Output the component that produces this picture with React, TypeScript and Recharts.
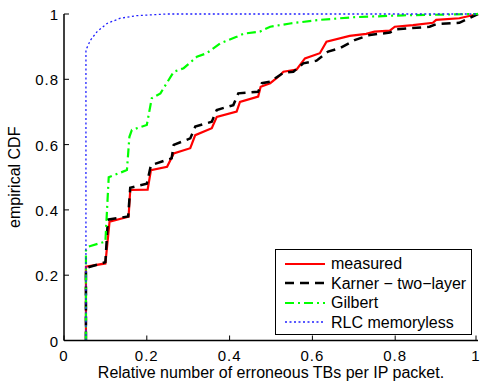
import { LineChart, Line, XAxis, YAxis, Legend } from 'recharts';

// CDF curves, [x, y] pairs
const measured = [
  [0.053, 0], [0.053, 0.226], [0.1, 0.236], [0.11, 0.364], [0.156, 0.379], [0.16, 0.461],
  [0.202, 0.462], [0.21, 0.522], [0.249, 0.532], [0.265, 0.573], [0.305, 0.589], [0.317, 0.629],
  [0.357, 0.65], [0.369, 0.685], [0.417, 0.701], [0.425, 0.731], [0.469, 0.747], [0.475, 0.777],
  [0.498, 0.788], [0.52, 0.81], [0.53, 0.823], [0.562, 0.83], [0.582, 0.864], [0.618, 0.88],
  [0.634, 0.915], [0.69, 0.933], [0.73, 0.939], [0.75, 0.946], [0.787, 0.949], [0.799, 0.961],
  [0.843, 0.966], [0.891, 0.973], [0.899, 0.982], [0.955, 0.987], [1, 1],
];

const karner = [
  [0.053, 0], [0.053, 0.222], [0.1, 0.24], [0.106, 0.37], [0.155, 0.38], [0.16, 0.468],
  [0.2, 0.48], [0.21, 0.537], [0.26, 0.558], [0.265, 0.599], [0.305, 0.619], [0.317, 0.655],
  [0.357, 0.67], [0.369, 0.706], [0.409, 0.721], [0.421, 0.757], [0.469, 0.762], [0.478, 0.788],
  [0.498, 0.793], [0.53, 0.82], [0.554, 0.823], [0.578, 0.849], [0.61, 0.857], [0.638, 0.885],
  [0.666, 0.895], [0.702, 0.92], [0.739, 0.936], [0.787, 0.943], [0.803, 0.953], [0.883, 0.961],
  [0.899, 0.969], [0.955, 0.973], [1, 1],
];

const gilbert = [
  [0.053, 0], [0.053, 0.276], [0.06, 0.288], [0.1, 0.303], [0.108, 0.5], [0.152, 0.522],
  [0.158, 0.624], [0.164, 0.645], [0.2, 0.66], [0.212, 0.742], [0.233, 0.757], [0.265, 0.823],
  [0.289, 0.834], [0.321, 0.869], [0.345, 0.88], [0.377, 0.91], [0.417, 0.93], [0.435, 0.94],
  [0.473, 0.946], [0.498, 0.961], [0.546, 0.971], [0.618, 0.982], [0.698, 0.99], [0.819, 0.996],
  [1, 1],
];

const rlc = [
  [0.053, 0], [0.053, 0.89], [0.064, 0.92], [0.08, 0.946], [0.104, 0.971], [0.136, 0.987],
  [0.176, 0.995], [0.25, 1], [1, 1],
];

const ticks = [0, 0.2, 0.4, 0.6, 0.8, 1];
const xTitle = 'Relative number of erroneous TBs per IP packet.';
const yTitle = 'empirical CDF';

const FONT = '"Liberation Sans", Arial, Helvetica, sans-serif';

const toPoints = (pts: number[][]) => pts.map(([x, y]) => ({ x, y }));

const series = [
  { name: 'measured', data: measured, color: '#ff0000', width: 2.2, dash: undefined },
  { name: 'Karner \u2212 two\u2212layer', data: karner, color: '#000000', width: 2.5, dash: '9 6' },
  { name: 'Gilbert', data: gilbert, color: '#00ff00', width: 2.2, dash: '9 4 2 4' },
  { name: 'RLC memoryless', data: rlc, color: '#2020ff', width: 1.3, dash: '2 2.5' },
];

const tickText = { fontSize: 15, letterSpacing: 1, fill: '#000', fontFamily: FONT };

const BottomTick = (p: any) => (
  <g>
    <line x1={p.x} x2={p.x} y1={p.y} y2={p.y - 5} stroke="#000" />
    <text x={p.x} y={p.y + 20} textAnchor="middle" {...tickText}>{String(p.payload.value)}</text>
  </g>
);

const LeftTick = (p: any) => (
  <g>
    <line x1={p.x} x2={p.x + 5} y1={p.y} y2={p.y} stroke="#000" />
    <text x={p.x - 5} y={p.y + 6} textAnchor="end" {...tickText}>{String(p.payload.value)}</text>
  </g>
);

const TopTick = (p: any) => <line x1={p.x} x2={p.x} y1={p.y} y2={p.y + 5} stroke="#000" />;
const RightTick = (p: any) => <line x1={p.x} x2={p.x - 5} y1={p.y} y2={p.y} stroke="#000" />;

const XTitle = (props: any) => {
  const vb = props.viewBox;
  return (
    <text x={vb.x + vb.width / 2} y={vb.y + 37} textAnchor="middle" fontSize={16} fontFamily={FONT} fill="#000">
      {xTitle}
    </text>
  );
};

const YTitle = (props: any) => {
  const vb = props.viewBox;
  const cx = vb.x + 20;
  const cy = vb.y + vb.height / 2;
  return (
    <text x={cx} y={cy} transform={`rotate(-90 ${cx} ${cy})`} textAnchor="middle" fontSize={16} fontFamily={FONT} fill="#000">
      {yTitle}
    </text>
  );
};

const LegendBox = () => (
  <div style={{ border: '1px solid #000', background: '#fff', width: 195, padding: '4px 0 2px', fontFamily: FONT, fontSize: 16, color: '#000' }}>
    {series.map((s) => (
      <div key={s.name} style={{ display: 'flex', alignItems: 'center', height: 19.5 }}>
        <svg width={47} height={8} style={{ marginLeft: 8 }}>
          <line x1={1} x2={41} y1={4} y2={4} stroke={s.color} strokeWidth={s.width} strokeDasharray={s.dash} />
        </svg>
        <span style={{ whiteSpace: 'nowrap', lineHeight: '19.5px' }}>{s.name}</span>
      </div>
    ))}
  </div>
);

const axisLine = { stroke: '#000', strokeWidth: 1.5 };

export default function App() {
  return (
    <div style={{ position: 'absolute', left: 0, top: 0, background: '#fff' }}>
      <LineChart width={480} height={382} margin={{ top: 14, right: 2, bottom: 0, left: 0 }}>
        <XAxis dataKey="x" type="number" domain={[0, 1]} ticks={ticks} height={41.5}
          tickSize={0} tickMargin={0} tickLine={false} axisLine={axisLine} tick={BottomTick}
          label={{ content: XTitle }} />
        <XAxis xAxisId="top" orientation="top" type="number" domain={[0, 1]} ticks={ticks} height={0}
          tickSize={0} tickMargin={0} tickLine={false} axisLine={axisLine} tick={TopTick} />
        <YAxis type="number" domain={[0, 1]} ticks={ticks} width={64}
          tickSize={0} tickMargin={0} tickLine={false} axisLine={axisLine} tick={LeftTick}
          label={{ content: YTitle }} />
        <YAxis yAxisId="right" orientation="right" type="number" domain={[0, 1]} ticks={ticks} width={0}
          tickSize={0} tickMargin={0} tickLine={false} axisLine={axisLine} tick={RightTick} />
        <Legend layout="horizontal" verticalAlign="middle" align="center"
          wrapperStyle={{ left: 275, top: 249, width: 'auto', height: 'auto' }} content={LegendBox} />
        {series.map((s) => (
          <Line key={s.name} name={s.name} data={toPoints(s.data)} dataKey="y" type="linear"
            stroke={s.color} strokeWidth={s.width} strokeDasharray={s.dash}
            dot={false} activeDot={false} isAnimationActive={false} />
        ))}
      </LineChart>
    </div>
  );
}
